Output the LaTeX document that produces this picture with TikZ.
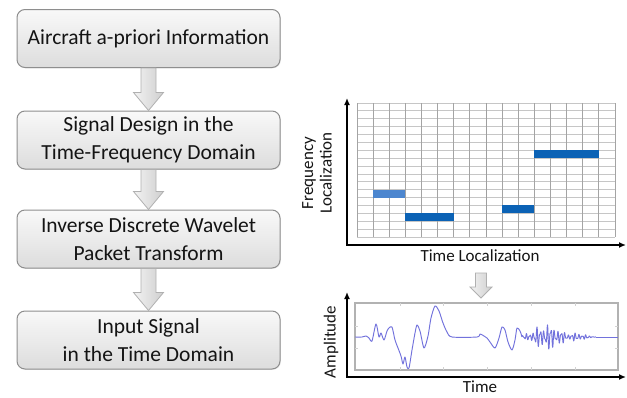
\documentclass[tikz,border=0pt]{standalone}
\usepackage{fontspec}
\setmainfont{Carlito}
\usetikzlibrary{arrows.meta,calc,shadows}

\definecolor{boxedge}{HTML}{8E8E8E}
\definecolor{bartone}{HTML}{0B62B5}
\definecolor{barlight}{HTML}{4C86CF}
\definecolor{wavecol}{HTML}{7272DC}
\definecolor{gridv}{HTML}{A4A4A4}
\definecolor{gridh}{HTML}{C6C6C6}

% block arrow: start point, tip point, shaft half width, head half width, head length
\newcommand\blockarrow[5]{%
  \path[arrowfill] let \p1=#1, \p2=#2 in
    ({\x1-#3},\y1) -- ({\x1+#3},\y1) -- ({\x1+#3},{\y2+#5}) -- ({\x1+#4},{\y2+#5})
    -- (\x2,\y2) -- ({\x1-#4},{\y2+#5}) -- ({\x1-#3},{\y2+#5}) -- cycle;}

\begin{document}
\begin{tikzpicture}[x=1pt,y=-1pt,
  stepbox/.style={draw=boxedge, line width=1pt, rounded corners=8pt,
    top color=gray!5, bottom color=gray!27,
    drop shadow={shadow xshift=0.8pt, shadow yshift=-0.8pt, opacity=0.18},
    minimum width=263pt, minimum height=58pt, align=center, inner sep=0pt,
    font=\fontsize{21.5}{28}\selectfont, text=black!92},
  arrowfill/.style={draw=gray!62, line width=0.8pt, left color=gray!10, right color=gray!38},
  lab/.style={font=\fontsize{17}{18.5}\selectfont, text=black!92, inner sep=0pt, align=center},
  axis/.style={line width=1.8pt, black, {Latex[length=7pt,width=6pt]}-{Latex[length=7pt,width=6pt]}},
  gridvert/.style={gridv, line width=0.8pt},
  gridhor/.style={gridh, line width=0.8pt},
  wave/.style={wavecol, line width=0.95pt, line join=round},
]
\useasboundingbox (0,0) rectangle (627,397);

% ---------------- process chain ----------------
\node[stepbox] (b1) at (148.5,38.5) {Aircraft a-priori Information};
\node[stepbox] (b2) at (148.5,140) {Signal Design in the\\Time-Frequency Domain};
\node[stepbox] (b3) at (148.5,239) {Inverse Discrete Wavelet\\Packet Transform};
\node[stepbox] (b4) at (148.5,340) {Input Signal\\in the Time Domain};

\blockarrow{(b1.south)}{(b2.north)}{7.5pt}{15pt}{18pt}
\blockarrow{(b2.south)}{(b3.north)}{7.5pt}{15pt}{18pt}
\blockarrow{(b3.south)}{(b4.north)}{7.5pt}{15pt}{18pt}

% ---------------- time-frequency tiling ----------------
\def\gx{357}\def\gy{103}\def\cw{16.125}\def\rh{7.882}
\foreach \j in {0,...,17}
  \draw[gridhor] (\gx,{\gy+\j*\rh}) -- ({\gx+16*\cw},{\gy+\j*\rh});
\foreach \i in {0,...,16}
  \draw[gridvert] ({\gx+\i*\cw},\gy) -- ({\gx+\i*\cw},{\gy+17*\rh});
\draw[gray!75, line width=0.9pt] ({\gx+8*\cw},\gy) -- ({\gx+8*\cw},{\gy+17*\rh});

% occupied tiles
\fill[barlight] ({\gx+1*\cw},{\gy+11*\rh}) rectangle ++({2*\cw},\rh);
\fill[bartone]  ({\gx+3*\cw},{\gy+14*\rh}) rectangle ++({3*\cw},\rh);
\fill[bartone]  ({\gx+9*\cw},{\gy+13*\rh}) rectangle ++({2*\cw},\rh);
\fill[bartone]  ({\gx+11*\cw},{\gy+6*\rh}) rectangle ++({4*\cw},\rh);

\coordinate (o1) at (347,245);
\coordinate (ytop1) at (347,98);
\coordinate (xend1) at (626,245);
\draw[axis] (ytop1) -- (o1) -- (xend1);

\node[lab, rotate=90] (flab) at (317,173) {Frequency\\Localization};
\node[lab] (tlab) at (480,256) {Time Localization};

% ---------------- synthesis arrow ----------------
\coordinate (dtop) at (481,273);
\coordinate (dtip) at (481,298);
\blockarrow{(dtop)}{(dtip)}{5.5pt}{11pt}{11pt}

% ---------------- time signal ----------------
\node[draw=gray!60, line width=1.4pt, minimum width=263pt, minimum height=67pt, inner sep=0pt]
  (wbox) at (486.5,336.5) {};
\foreach \t in {400,443,487,531,575} {
  \draw[gray!35, line width=0.6pt] (\t,303) -- (\t,306);
  \draw[gray!35, line width=0.6pt] (\t,370) -- (\t,367);
}
\foreach \t in {326,348} {
  \draw[gray!35, line width=0.6pt] (355,\t) -- (358,\t);
  \draw[gray!35, line width=0.6pt] (618,\t) -- (615,\t);
}

\draw[wave] plot[smooth, tension=0.45] coordinates {
  (355,337) (362,337) (366,336) (369,338) (372,341) (376,324) (379,337)
  (381,333) (384,340) (387,331) (389,328) (392,327) (395,340) (398,348)
  (401,356) (403,364) (405,357) (407,367) (409,368) (412,350) (415,333)
  (417,325) (420,331) (424,348) (428,336) (431,318) (435,306) (439,311)
  (443,323) (447,332) (452,337) (477,337) (480,334) (484,336) (487,338)
  (490,342) (495,348) (499,338) (502,327) (505,330) (508,342) (512,350)
  (515,340) (517,328) (520,331) (522,337)};
\draw[wave] plot[domain=522:596, samples=300]
  (\x,{337-(13*exp(-(\x-547)*(\x-547)/300)+3.5*exp(-(\x-579)*(\x-579)/90))
        *(0.75+0.25*sin(29*(\x-522)))
        *(sin(103*(\x-522))+0.5*sin(171*(\x-522)+40))/1.3});
\draw[wave] (596,337) -- (618,337);

\coordinate (o2) at (347,377);
\coordinate (ytop2) at (347,292);
\coordinate (xend2) at (626,377);
\draw[axis] (ytop2) -- (o2) -- (xend2);

\node[lab, rotate=90] (alab) at (331,342) {Amplitude};
\node[lab] (tlab2) at (480,387) {Time};
\end{tikzpicture}
\end{document}
